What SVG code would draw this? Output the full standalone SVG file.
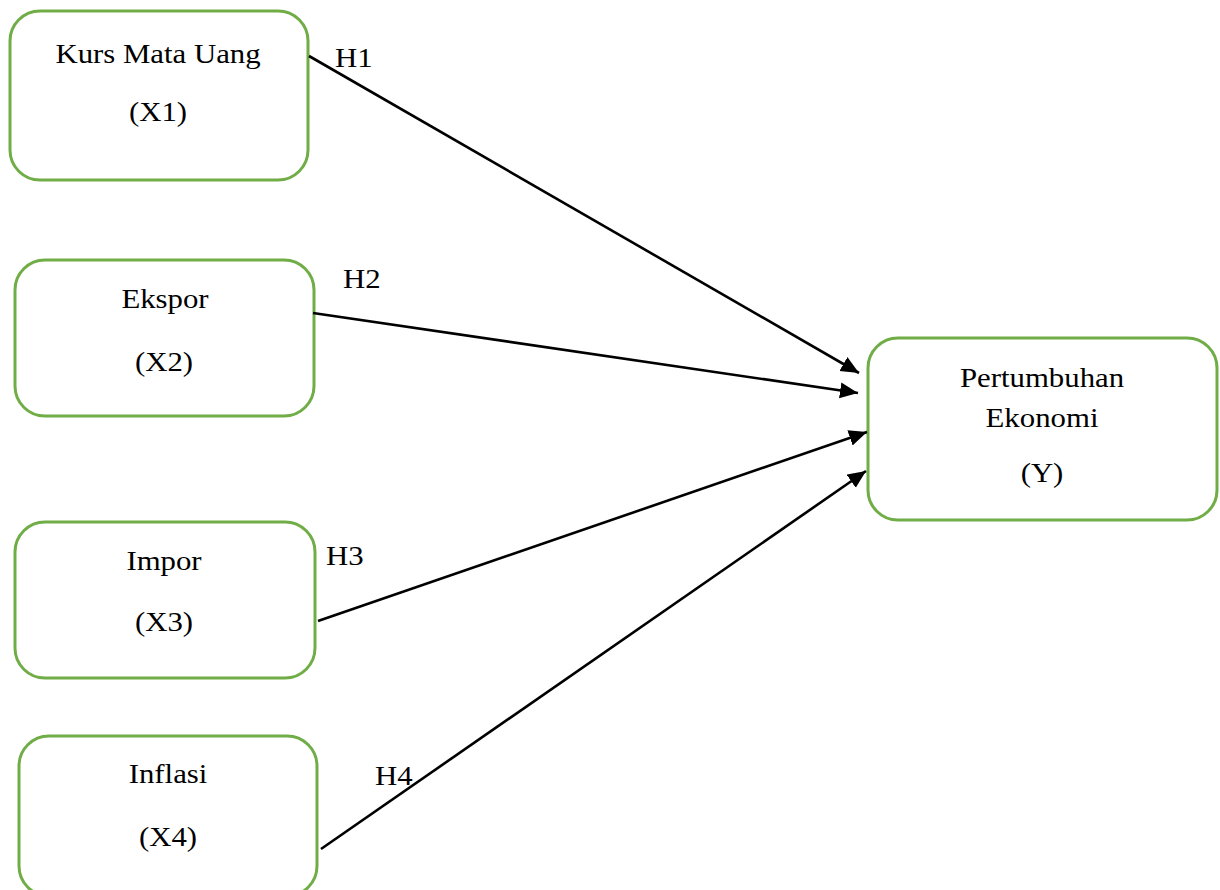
<svg xmlns="http://www.w3.org/2000/svg" width="1220" height="890" viewBox="0 0 1220 890">
<style>
.box{fill:#fff;stroke:#70AD47;stroke-width:3}
.t{font-family:"Liberation Serif","Times New Roman",serif;font-size:28px;fill:#000;text-anchor:middle}
.h{font-family:"Liberation Serif","Times New Roman",serif;font-size:28px;fill:#000}
.c{stroke:#000;stroke-width:2.6;fill:none}
</style>
<defs>
<marker id="ah" markerUnits="userSpaceOnUse" markerWidth="20" markerHeight="18" refX="18" refY="8" orient="auto">
<path d="M0,0 L18,8 L0,16 Z" fill="#000"/>
</marker>
</defs>
<rect width="1220" height="890" fill="#fff"/>
<g id="node-x1">
<rect class="box" x="10" y="11" width="298" height="169" rx="30"/>
<text class="t" transform="translate(158,63) scale(1.1,1)">Kurs Mata Uang</text>
<text class="t" transform="translate(158,121) scale(1.1,1)">(X1)</text>
</g>
<g id="node-x2">
<rect class="box" x="15" y="260" width="299" height="156" rx="30"/>
<text class="t" transform="translate(165,308) scale(1.1,1)">Ekspor</text>
<text class="t" transform="translate(164,371) scale(1.1,1)">(X2)</text>
</g>
<g id="node-x3">
<rect class="box" x="15" y="522" width="300" height="156" rx="30"/>
<text class="t" transform="translate(164,570) scale(1.1,1)">Impor</text>
<text class="t" transform="translate(164,631) scale(1.1,1)">(X3)</text>
</g>
<g id="node-x4">
<rect class="box" x="19" y="736" width="298" height="160" rx="30"/>
<text class="t" transform="translate(168,783) scale(1.1,1)">Inflasi</text>
<text class="t" transform="translate(168,846) scale(1.1,1)">(X4)</text>
</g>
<g id="node-y">
<rect class="box" x="868" y="338" width="349" height="182" rx="30"/>
<text class="t" transform="translate(1042,387) scale(1.1,1)">Pertumbuhan</text>
<text class="t" transform="translate(1042,427) scale(1.1,1)">Ekonomi</text>
<text class="t" transform="translate(1042,482) scale(1.1,1)">(Y)</text>
</g>
<g id="connectors">
<line class="c" x1="309" y1="56" x2="859" y2="373" marker-end="url(#ah)"/>
<line class="c" x1="313" y1="313" x2="858" y2="393" marker-end="url(#ah)"/>
<line class="c" x1="318" y1="621" x2="867" y2="432" marker-end="url(#ah)"/>
<line class="c" x1="321" y1="849" x2="866" y2="471" marker-end="url(#ah)"/>
<text class="h" transform="translate(335,67) scale(1.1,1)">H1</text>
<text class="h" transform="translate(343,288) scale(1.1,1)">H2</text>
<text class="h" transform="translate(326,565) scale(1.1,1)">H3</text>
<text class="h" transform="translate(375,785) scale(1.1,1)">H4</text>
</g>
</svg>
